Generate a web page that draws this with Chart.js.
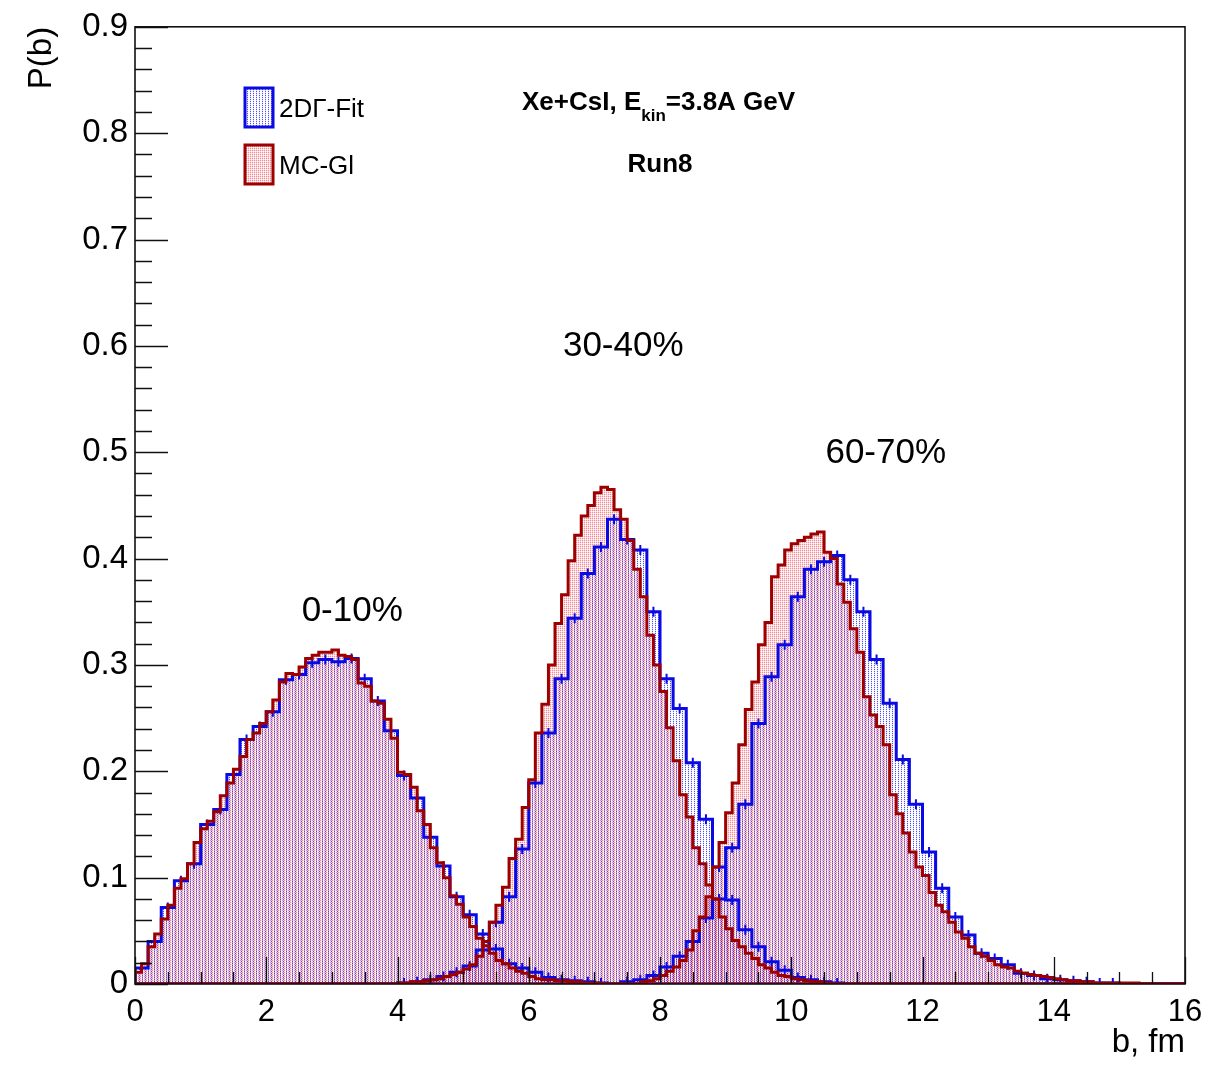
<!DOCTYPE html>
<html>
<head>
<meta charset="utf-8">
<script src="https://cdn.jsdelivr.net/npm/chart.js@4.4.1/dist/chart.umd.min.js"></script>
<style>
  body { margin: 0; background: #fff; }
  #wrap { width: 1230px; height: 1065px; }
</style>
</head>
<body>
<div id="wrap"><canvas id="pb" width="1230" height="1065"></canvas></div>
<script>
// axis ranges / ticks
const xMin = 0, xMax = 16, xLabelStep = 2, xMinorStep = 0.5;
const yMin = 0, yMax = 0.9, yLabelStep = 0.1, yMinorStep = 0.02;

// MC-Gl histograms (0.1 fm bins), first bin left edge + contents
const mcBin = 0.1;
const mcStart010 = 0.0;
const mc010 = [0.011, 0.019, 0.035, 0.047, 0.061, 0.074, 0.090, 0.099, 0.113, 0.133,
  0.146, 0.153, 0.162, 0.177, 0.189, 0.202, 0.214, 0.230, 0.236, 0.245,
  0.256, 0.267, 0.284, 0.292, 0.291, 0.298, 0.306, 0.309, 0.312, 0.312,
  0.314, 0.309, 0.308, 0.305, 0.283, 0.280, 0.266, 0.264, 0.249, 0.231,
  0.199, 0.197, 0.185, 0.163, 0.150, 0.128, 0.114, 0.100, 0.083, 0.075,
  0.063, 0.054, 0.043, 0.036, 0.029, 0.022, 0.019, 0.015, 0.012, 0.010,
  0.007, 0.005, 0.004, 0.004, 0.003, 0.003, 0.002, 0.002, 0.001, 0.001, 0.001];
const mcStart3040 = 4.0;
const mc3040 = [0.001, 0.001, 0.002, 0.002, 0.003, 0.004, 0.005, 0.007, 0.009, 0.011,
  0.014, 0.018, 0.026, 0.040, 0.058, 0.074, 0.091, 0.118, 0.136, 0.166,
  0.192, 0.236, 0.263, 0.300, 0.339, 0.366, 0.398, 0.422, 0.440, 0.450,
  0.462, 0.467, 0.465, 0.446, 0.437, 0.417, 0.390, 0.364, 0.328, 0.300,
  0.275, 0.241, 0.210, 0.178, 0.157, 0.128, 0.113, 0.093, 0.080, 0.063,
  0.052, 0.041, 0.035, 0.029, 0.024, 0.018, 0.015, 0.011, 0.008, 0.007,
  0.005, 0.004, 0.003, 0.002, 0.002, 0.001];
const mcStart6070 = 7.7;
const mc6070 = [0.002, 0.003, 0.005, 0.008, 0.012, 0.016, 0.022, 0.032, 0.050, 0.063,
  0.082, 0.110, 0.133, 0.161, 0.189, 0.225, 0.258, 0.284, 0.319, 0.340,
  0.383, 0.394, 0.408, 0.414, 0.417, 0.420, 0.423, 0.425, 0.406, 0.400,
  0.376, 0.359, 0.334, 0.312, 0.270, 0.253, 0.242, 0.225, 0.178, 0.160,
  0.142, 0.124, 0.110, 0.102, 0.086, 0.074, 0.068, 0.058, 0.049, 0.043,
  0.035, 0.029, 0.026, 0.022, 0.018, 0.016, 0.015, 0.012, 0.010, 0.009,
  0.008, 0.007, 0.006, 0.005, 0.004, 0.003, 0.003, 0.002, 0.002, 0.001,
  0.001, 0.001, 0.001, 0.001, 0.001, 0.001];

// 2D Gamma fit histograms (0.2 fm bins)
const fitBin = 0.2;
const fitStart010 = 0.0;
const fit010 = [0.015, 0.040, 0.072, 0.097, 0.113, 0.150, 0.164, 0.197, 0.230, 0.242,
  0.256, 0.286, 0.291, 0.302, 0.305, 0.303, 0.306, 0.287, 0.266, 0.238,
  0.196, 0.175, 0.138, 0.111, 0.082, 0.065, 0.047, 0.033, 0.019, 0.015,
  0.011, 0.006, 0.004, 0.003, 0.002, 0.001];
const fitStart3040 = 4.0;
const fit3040 = [0.001, 0.002, 0.004, 0.007, 0.011, 0.017, 0.032, 0.058, 0.082, 0.127,
  0.189, 0.236, 0.287, 0.344, 0.386, 0.411, 0.437, 0.418, 0.408, 0.350,
  0.287, 0.259, 0.208, 0.155, 0.110, 0.079, 0.051, 0.035, 0.021, 0.013,
  0.006, 0.004, 0.002, 0.001];
const fitStart6070 = 7.4;
const fit6070 = [0.002, 0.004, 0.008, 0.016, 0.026, 0.040, 0.062, 0.080, 0.128, 0.169,
  0.245, 0.289, 0.319, 0.364, 0.390, 0.397, 0.403, 0.380, 0.350, 0.305,
  0.264, 0.211, 0.169, 0.124, 0.090, 0.063, 0.046, 0.029, 0.024, 0.018,
  0.010, 0.008, 0.005, 0.004, 0.003, 0.002, 0.001, 0.001];

// labels
const legendLabels = ["2D\u0393-Fit", "MC-Gl"];
const classLabels = ["0-10%", "30-40%", "60-70%"];
const classAt = [[3.31, 0.350], [7.44, 0.600], [11.44, 0.499]]; // [b, P(b)] of label centre
const RED = "rgb(158,0,0)";
const BLUE = "rgb(10,10,228)";
const FONT = "'Liberation Sans', Arial, Helvetica, sans-serif";

// histogram -> step outline points (stepped: 'before')
function stepPoints(start, width, vals) {
  const pts = [{ x: xMin, y: 0 }, { x: start, y: 0 }];
  vals.forEach((v, i) => pts.push({ x: +(start + i * width).toFixed(3), y: v }));
  const end = +(start + vals.length * width).toFixed(3);
  pts.push({ x: end, y: vals[vals.length - 1] });
  pts.push({ x: end, y: 0 }, { x: xMax, y: 0 });
  return pts;
}
function centerPoints(start, width, vals) {
  return vals.map((v, i) => ({ x: +(start + (i + 0.5) * width).toFixed(3), y: v }));
}

// ROOT-like dotted fill patterns
function makePattern(w, h, dots) {
  const c = document.createElement("canvas");
  c.width = w; c.height = h;
  const g = c.getContext("2d");
  dots.forEach(d => { g.fillStyle = d[2]; g.fillRect(d[0], d[1], 1, 1); });
  return g.createPattern(c, "repeat");
}
const redFill = makePattern(2, 2, [
  [0, 0, "rgba(228,45,60,0.55)"], [1, 0, "rgba(240,125,138,0.26)"], [0, 1, "rgba(240,125,138,0.3)"]
]);
const blueFill = makePattern(3, 2, [
  [1, 1, "rgba(40,40,235,0.8)"], [1, 0, "rgba(120,120,240,0.22)"]
]);

// fill-only layer, outline-only layer
function fillSet(label, start, width, vals, fillPat, order) {
  return {
    type: "line", label: label, data: stepPoints(start, width, vals),
    stepped: "before", borderWidth: 0, borderColor: "rgba(0,0,0,0)",
    backgroundColor: fillPat, fill: "origin", pointRadius: 0, order: order
  };
}
function lineSet(label, start, width, vals, color, order) {
  return {
    type: "line", label: label, data: stepPoints(start, width, vals),
    stepped: "before", borderColor: color, borderWidth: 3, borderJoinStyle: "miter",
    fill: false, pointRadius: 0, order: order
  };
}
function errSet(start, width, vals) {
  return {
    type: "scatter", data: centerPoints(start, width, vals), showLine: false,
    pointStyle: "line", rotation: 90, pointRadius: 5, pointBorderWidth: 2,
    borderColor: BLUE, backgroundColor: BLUE, order: 2
  };
}

const rootAxes = {
  id: "rootAxes",
  afterDatasetsDraw(chart) {
    const { ctx, chartArea: a, scales: { x, y } } = chart;
    ctx.save();
    ctx.strokeStyle = "#111";
    ctx.lineWidth = 1.3;
    ctx.beginPath();
    for (let v = yMin; v <= yMax + 1e-9; v += yMinorStep) {
      const py = Math.round(y.getPixelForValue(v)) + 0.5;
      const major = Math.abs(v / yLabelStep - Math.round(v / yLabelStep)) < 1e-6;
      ctx.moveTo(a.left, py);
      ctx.lineTo(a.left + (major ? 33 : 17), py);
    }
    for (let v = xMin; v <= xMax + 1e-9; v += xMinorStep) {
      const px = Math.round(x.getPixelForValue(v)) + 0.5;
      const major = Math.abs(v / xLabelStep - Math.round(v / xLabelStep)) < 1e-6;
      ctx.moveTo(px, a.bottom);
      ctx.lineTo(px, a.bottom - (major ? 27 : 12));
    }
    ctx.stroke();
    ctx.lineWidth = 1.6;
    ctx.strokeRect(a.left, a.top, a.right - a.left, a.bottom - a.top);
    ctx.restore();
  },
  afterDraw(chart) {
    const { ctx, chartArea: a, scales: { x, y } } = chart;
    ctx.save();
    ctx.fillStyle = "#000";
    // axis titles
    ctx.font = "33px " + FONT;
    ctx.save();
    ctx.translate(42, a.top);
    ctx.rotate(-Math.PI / 2);
    ctx.textAlign = "right";
    ctx.textBaseline = "middle";
    ctx.fillText("P(b)", 0, 0);
    ctx.restore();
    ctx.textAlign = "right";
    ctx.textBaseline = "alphabetic";
    ctx.fillText("b, fm", a.right, 1052);

    // centrality class labels
    ctx.font = "35px " + FONT;
    ctx.textAlign = "center";
    ctx.textBaseline = "middle";
    classLabels.forEach((t, i) =>
      ctx.fillText(t, x.getPixelForValue(classAt[i][0]), y.getPixelForValue(classAt[i][1])));

    // legend
    const boxes = [[245, 88, BLUE, blueFill], [245, 145, RED, redFill]];
    boxes.forEach((b, i) => {
      ctx.fillStyle = b[3];
      ctx.fillRect(b[0], b[1], 28, 39);
      ctx.strokeStyle = b[2];
      ctx.lineWidth = 3;
      ctx.strokeRect(b[0], b[1], 28, 39);
      ctx.fillStyle = "#000";
      ctx.font = "26px " + FONT;
      ctx.textAlign = "left";
      ctx.textBaseline = "middle";
      ctx.fillText(legendLabels[i], 279, b[1] + 22);
    });

    // system label
    ctx.font = "bold 26px " + FONT;
    ctx.textAlign = "left";
    ctx.textBaseline = "alphabetic";
    let tx = 522;
    ctx.fillText("Xe+CsI, E", tx, 110);
    tx += ctx.measureText("Xe+CsI, E").width;
    ctx.font = "bold 17px " + FONT;
    ctx.fillText("kin", tx, 121);
    tx += ctx.measureText("kin").width;
    ctx.font = "bold 26px " + FONT;
    ctx.fillText("=3.8A GeV", tx, 110);
    ctx.textAlign = "center";
    ctx.fillText("Run8", 660, 172);
    ctx.restore();
  }
};

const ctx = document.getElementById("pb").getContext("2d");
new Chart(ctx, {
  data: {
    datasets: [
      // order: lower = drawn later (on top)
      fillSet("MC-Gl 0-10% fill", mcStart010, mcBin, mc010, redFill, 5),
      fillSet("MC-Gl 30-40% fill", mcStart3040, mcBin, mc3040, redFill, 5),
      fillSet("MC-Gl 60-70% fill", mcStart6070, mcBin, mc6070, redFill, 5),
      fillSet("2DG-Fit 0-10% fill", fitStart010, fitBin, fit010, blueFill, 4),
      fillSet("2DG-Fit 30-40% fill", fitStart3040, fitBin, fit3040, blueFill, 4),
      fillSet("2DG-Fit 60-70% fill", fitStart6070, fitBin, fit6070, blueFill, 4),
      lineSet("2DG-Fit 0-10%", fitStart010, fitBin, fit010, BLUE, 3),
      lineSet("2DG-Fit 30-40%", fitStart3040, fitBin, fit3040, BLUE, 3),
      lineSet("2DG-Fit 60-70%", fitStart6070, fitBin, fit6070, BLUE, 3),
      errSet(fitStart010, fitBin, fit010),
      errSet(fitStart3040, fitBin, fit3040),
      errSet(fitStart6070, fitBin, fit6070),
      lineSet("MC-Gl 0-10%", mcStart010, mcBin, mc010, RED, 1),
      lineSet("MC-Gl 30-40%", mcStart3040, mcBin, mc3040, RED, 1),
      lineSet("MC-Gl 60-70%", mcStart6070, mcBin, mc6070, RED, 1)
    ]
  },
  options: {
    responsive: false,
    animation: false,
    events: [],
    layout: { padding: { top: 22, right: 45, left: 0, bottom: 0 } },
    plugins: { legend: { display: false }, tooltip: { enabled: false } },
    scales: {
      x: {
        type: "linear", min: xMin, max: xMax,
        grid: { display: false, drawTicks: false },
        border: { display: false },
        afterFit: (s) => { s.height = 81; },
        ticks: {
          stepSize: xLabelStep, autoSkip: false, maxRotation: 0, padding: 10,
          color: "#000", font: { family: FONT, size: 31 },
          callback: (v) => String(v)
        }
      },
      y: {
        type: "linear", min: yMin, max: yMax,
        grid: { display: false, drawTicks: false },
        border: { display: false },
        afterFit: (s) => { s.width = 135; },
        ticks: {
          stepSize: yLabelStep, padding: 7,
          color: "#000", font: { family: FONT, size: 33 },
          callback: (v) => (Math.abs(v) < 1e-9 ? "0" : v.toFixed(1))
        }
      }
    }
  },
  plugins: [rootAxes]
});
</script>
</body>
</html>
